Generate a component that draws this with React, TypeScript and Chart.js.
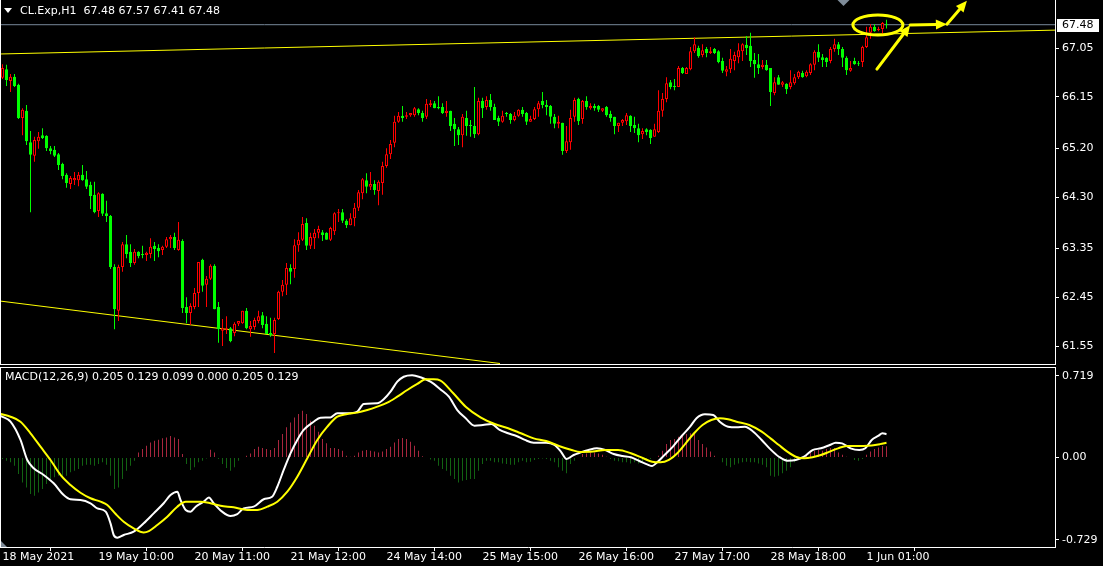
import React, { useEffect, useRef } from "react";
import { Chart, registerables } from "chart.js";

Chart.register(...registerables);

// ---------------- data ----------------
const symbolTitle = "CL.Exp,H1";

const opens = [
  66.50,66.66,66.44,66.52,66.37,65.76,65.89,65.31,65.06,65.33,
  65.44,65.43,65.20,65.17,65.09,64.91,64.71,64.54,64.61,64.61,
  64.71,64.63,64.52,64.34,64.04,64.36,64.00,63.95,63.01,62.20,
  63.01,63.43,63.29,63.08,63.29,63.25,63.23,63.25,63.40,63.36,
  63.32,63.38,63.52,63.56,63.32,63.49,62.27,62.16,62.27,62.53,
  63.14,62.68,62.79,63.03,62.27,61.83,61.85,61.88,61.79,61.96,
  61.97,62.20,61.86,61.90,62.01,62.12,61.96,61.79,61.77,62.05,
  62.55,62.68,62.99,62.97,63.41,63.51,63.82,63.40,63.54,63.64,
  63.65,63.64,63.51,63.67,64.00,64.02,63.86,63.78,63.91,64.10,
  64.37,64.61,64.49,64.54,64.41,64.56,64.87,65.09,65.30,65.69,
  65.80,65.78,65.81,65.81,65.92,65.85,65.78,66.00,66.03,65.96,
  65.96,65.85,65.89,65.65,65.55,65.44,65.76,65.63,65.61,65.46,
  66.07,65.96,66.09,65.96,65.76,65.69,65.85,65.83,65.72,65.80,
  65.91,65.85,65.69,65.74,65.92,66.07,66.00,65.98,65.78,65.65,
  65.67,65.15,65.31,65.78,66.11,65.74,66.07,65.94,65.98,65.98,
  65.89,65.96,65.83,65.78,65.61,65.67,65.70,65.80,65.63,65.57,
  65.46,65.55,65.54,65.41,65.50,65.89,66.11,66.42,66.35,66.33,
  66.68,66.57,66.66,66.99,67.05,66.92,67.03,66.96,67.03,66.99,
  66.81,66.61,66.66,66.81,66.88,66.99,67.11,67.09,66.83,66.75,
  66.70,66.74,66.68,66.22,66.51,66.37,66.39,66.33,66.40,66.51,
  66.59,66.53,66.59,66.74,66.98,66.88,66.87,66.81,67.03,67.12,
  67.03,66.87,66.63,66.81,66.77,66.79,67.07,67.33,67.44,67.38,
  67.40,67.48,
];

const highs = [
  66.75,66.74,66.57,66.57,66.39,65.94,66.00,65.52,65.41,65.50,
  65.57,65.44,65.24,65.24,65.11,64.93,64.74,64.69,64.76,64.76,
  64.89,64.78,64.58,64.58,64.39,64.37,64.23,63.97,63.06,63.05,
  63.47,63.60,63.43,63.34,63.30,63.40,63.29,63.54,63.47,63.43,
  63.40,63.56,63.60,63.64,63.84,63.52,62.45,62.34,62.62,63.10,
  63.16,62.84,63.06,63.06,62.36,62.05,62.10,61.90,61.99,62.01,
  62.20,62.25,62.01,62.07,62.20,62.18,62.10,62.07,62.07,62.57,
  62.77,63.08,63.06,63.52,63.65,63.93,63.91,63.64,63.71,63.77,
  63.69,63.65,63.75,64.02,64.08,64.08,63.89,64.00,64.19,64.43,
  64.65,64.74,64.76,64.61,64.61,64.95,65.20,65.35,65.80,65.87,
  65.98,65.87,65.85,65.96,65.94,65.89,66.11,66.09,66.07,66.16,
  66.03,66.07,65.89,65.76,65.59,65.83,65.89,65.72,66.33,66.13,
  66.13,66.16,66.20,66.02,65.80,65.89,65.87,65.85,65.87,65.92,
  65.96,65.87,65.80,65.96,66.07,66.24,66.09,66.00,65.83,65.80,
  65.67,65.61,65.91,66.13,66.13,66.09,66.16,66.03,66.02,66.00,
  65.94,65.98,65.89,65.78,65.67,65.74,65.85,65.81,65.78,65.65,
  65.57,65.57,65.55,65.65,66.27,66.22,66.51,66.46,66.48,66.72,
  66.70,66.70,67.07,67.25,67.09,67.12,67.07,67.07,67.05,67.01,
  66.87,66.72,67.03,66.98,67.14,67.14,67.27,67.33,66.96,66.94,
  66.83,66.83,66.68,66.51,66.55,66.44,66.40,66.64,66.57,66.63,
  66.63,66.64,66.77,67.01,67.12,66.94,66.88,67.07,67.22,67.16,
  67.07,66.90,66.81,66.87,66.81,67.09,67.44,67.49,67.49,67.44,
  67.53,67.57,
];

const lows = [
  66.48,66.35,66.24,66.33,65.74,65.44,65.26,64.02,64.95,65.19,
  65.37,65.15,65.09,65.04,64.80,64.63,64.47,64.45,64.52,64.50,
  64.60,64.45,64.08,64.00,63.93,63.95,63.84,62.97,61.86,62.01,
  62.92,63.17,63.01,63.05,63.17,63.17,63.12,63.17,63.12,63.19,
  63.23,63.36,63.36,63.32,63.31,62.16,61.97,61.94,62.23,62.27,
  62.55,62.27,62.77,62.23,61.61,61.55,61.77,61.62,61.73,61.92,
  61.96,61.86,61.72,61.85,61.97,61.88,61.77,61.72,61.42,62.03,
  62.47,62.49,62.69,62.81,63.29,63.49,63.32,63.34,63.34,63.54,
  63.49,63.51,63.49,63.60,63.84,63.82,63.73,63.78,63.76,64.04,
  64.26,64.37,64.43,64.34,64.15,64.34,64.84,65.00,65.22,65.67,
  65.69,65.74,65.78,65.78,65.81,65.69,65.74,65.96,65.94,65.92,
  65.83,65.78,65.52,65.24,65.26,65.22,65.43,65.41,65.39,65.44,
  65.76,65.91,65.89,65.72,65.61,65.67,65.78,65.65,65.70,65.78,
  65.78,65.63,65.69,65.72,65.78,65.94,65.81,65.65,65.57,65.57,
  65.08,65.11,65.17,65.69,65.63,65.65,65.91,65.91,65.89,65.87,
  65.87,65.78,65.69,65.46,65.50,65.61,65.63,65.50,65.48,65.31,
  65.37,65.44,65.28,65.41,65.48,65.78,66.05,66.29,66.27,66.33,
  66.57,66.57,66.64,66.96,66.87,66.88,66.88,66.94,66.94,66.77,
  66.59,66.53,66.59,66.64,66.77,66.81,66.92,66.70,66.50,66.57,
  66.66,66.63,65.98,66.18,66.37,66.33,66.20,66.29,66.37,66.48,
  66.50,66.51,66.55,66.64,66.79,66.70,66.70,66.77,66.98,66.92,
  66.70,66.55,66.61,66.74,66.72,66.70,67.05,67.22,67.35,67.36,
  67.31,67.41,
];

const closes = [
  66.68,66.46,66.52,66.35,65.76,65.91,65.33,65.08,65.35,65.41,
  65.39,65.20,65.15,65.06,64.89,64.69,64.56,64.65,64.65,64.71,
  64.61,64.49,64.32,64.02,64.37,63.99,63.95,63.01,62.23,63.01,
  63.43,63.25,63.08,63.29,63.21,63.23,63.27,63.38,63.34,63.30,
  63.38,63.52,63.56,63.36,63.51,62.25,62.16,62.29,62.53,63.10,
  62.66,62.79,63.03,62.23,61.86,61.88,61.88,61.64,61.96,62.01,
  62.20,61.88,61.92,62.03,62.10,61.94,61.77,61.75,62.03,62.55,
  62.68,62.99,62.92,63.41,63.51,63.80,63.40,63.56,63.64,63.71,
  63.60,63.51,63.73,64.00,64.02,63.86,63.78,63.91,64.10,64.39,
  64.63,64.49,64.54,64.43,64.58,64.87,65.09,65.28,65.69,65.80,
  65.76,65.81,65.85,65.94,65.85,65.76,66.02,66.03,65.94,65.94,
  65.85,65.89,65.61,65.55,65.44,65.78,65.61,65.61,65.46,66.07,
  65.94,66.09,65.96,65.72,65.69,65.80,65.83,65.72,65.80,65.91,
  65.83,65.69,65.74,65.92,66.03,66.00,65.96,65.78,65.65,65.69,
  65.15,65.33,65.76,66.09,65.70,66.07,65.96,65.98,65.94,65.91,
  65.94,65.81,65.76,65.61,65.67,65.72,65.81,65.61,65.57,65.44,
  65.52,65.50,65.39,65.55,65.89,66.11,66.40,66.33,66.33,66.68,
  66.59,66.68,66.99,67.12,66.90,67.01,66.96,66.99,66.96,66.79,
  66.63,66.66,66.85,66.92,67.01,67.12,67.05,66.81,66.75,66.68,
  66.74,66.64,66.24,66.42,66.37,66.42,66.29,66.42,66.51,66.61,
  66.51,66.61,66.75,66.98,66.87,66.83,66.79,67.03,67.12,67.03,
  66.87,66.64,66.68,66.75,66.75,67.07,67.25,67.44,67.36,67.40,
  67.51,67.48,
];

const lastPrice = 67.48;
const priceTicks = [67.05, 66.15, 65.2, 64.3, 63.35, 62.45, 61.55];

const timeTickBars = [0, 24, 48, 72, 96, 120, 144, 168, 192, 216];
const timeTickLabels = [
  "18 May 2021", "19 May 10:00", "20 May 11:00", "21 May 12:00", "24 May 14:00",
  "25 May 15:00", "26 May 16:00", "27 May 17:00", "28 May 18:00", "1 Jun 01:00",
];

// MACD main line (white), read at sample bars
const macdBars = [
  -0.5,2,4.5,6.2,7.8,10.3,12.8,15.3,17,19.5,22,23.7,25.8,27,27.8,28.7,30.3,32.8,35.3,37.8,
  40.3,42,43.7,44.5,45.8,47,48.3,50.3,51.6,52.8,54.9,57,58.7,60.3,62.8,65.3,67.4,68.7,70.3,72,
  73.7,75.3,77.8,79.5,82,83.7,86.2,88.7,90.3,93.7,95.3,97,98.7,100.3,102.4,104.5,107,109.5,111.6,113.7,
  115.8,118,120.1,122.2,124.3,126.4,128.5,130.6,132.8,135.9,138,139.6,141,142.8,144.4,146.5,148.6,150.7,152.8,155,
  157.1,159.2,161.3,162.4,163.4,165.5,167.6,169.8,171.9,173.5,175.6,177.7,179.3,181.4,183.5,185.6,187.7,189.8,192,194.1,
  196.2,198.3,200.4,202.5,204.6,206.8,208.3,209.9,212,214.2,215.7,217.3,218.9,220,221,
];
const macdValues = [
  0.366,0.315,0.154,-0.023,-0.096,-0.155,-0.229,-0.332,-0.370,-0.376,-0.405,-0.450,-0.479,-0.582,-0.685,-0.709,-0.685,-0.656,-0.582,-0.494,
  -0.405,-0.332,-0.303,-0.376,-0.464,-0.479,-0.435,-0.391,-0.353,-0.405,-0.479,-0.517,-0.500,-0.450,-0.435,-0.370,-0.347,-0.259,-0.111,0.036,
  0.154,0.242,0.315,0.350,0.353,0.389,0.389,0.404,0.471,0.477,0.513,0.580,0.668,0.712,0.725,0.707,0.668,0.600,0.536,0.418,
  0.345,0.280,0.286,0.295,0.242,0.213,0.189,0.154,0.130,0.130,0.109,0.051,-0.014,0.021,0.042,0.065,0.080,0.065,0.030,0.012,
  0.001,-0.032,-0.064,-0.076,-0.052,0.021,0.095,0.189,0.271,0.345,0.380,0.374,0.315,0.271,0.265,0.271,0.227,0.154,0.071,0.006,
  -0.029,-0.023,0.006,0.065,0.080,0.109,0.130,0.124,0.080,0.065,0.080,0.154,0.189,0.213,0.205,
];

// Signal line (yellow)
const signalBars = [
  -0.5,2,4.5,7,9.5,12,14.5,17,19.5,22,24.5,26.2,28.3,30.3,32.8,35.3,36.6,38.7,41.2,43.7,
  45.8,49.5,52,54.5,57.8,61.2,63.7,66.2,68.7,71.2,73.7,76.2,78.7,81.2,83.7,86.2,88.7,91.2,93.7,96.2,
  98.7,101.2,103.7,105.8,107.8,109.5,112.7,115.8,119.5,123.2,126.4,129.6,132.8,135.9,139.1,142.3,144.4,147.6,150.7,153.9,
  157.1,160.2,162.4,164.5,166.6,168.7,170.8,172.9,175,177.2,179.3,181.4,183.5,186.7,189.8,192,194.1,196.2,198.3,200.4,
  202.5,204.6,206.8,208.9,211,213.1,215.2,217.3,219.4,221,
];
const signalValues = [
  0.383,0.359,0.315,0.213,0.095,-0.023,-0.155,-0.244,-0.312,-0.361,-0.391,-0.420,-0.500,-0.568,-0.626,-0.662,-0.650,-0.597,-0.524,-0.435,
  -0.391,-0.391,-0.405,-0.427,-0.441,-0.464,-0.464,-0.435,-0.391,-0.303,-0.171,-0.008,0.154,0.271,0.359,0.383,0.395,0.418,0.448,0.483,
  0.536,0.595,0.648,0.689,0.689,0.678,0.566,0.448,0.354,0.292,0.257,0.213,0.168,0.145,0.101,0.065,0.048,0.051,0.065,0.065,
  0.036,-0.008,-0.038,-0.044,-0.023,0.036,0.124,0.213,0.286,0.330,0.345,0.336,0.315,0.286,0.227,0.168,0.109,0.051,0.006,-0.008,
  0.001,0.021,0.051,0.080,0.101,0.101,0.101,0.105,0.117,0.129,
];

// Histogram, one per bar
const histValues = [
  -0.015,-0.029,-0.044,-0.074,-0.147,-0.221,-0.265,-0.324,-0.338,-0.309,
  -0.279,-0.235,-0.191,-0.176,-0.162,-0.162,-0.162,-0.132,-0.118,-0.103,
  -0.074,-0.065,-0.065,-0.074,-0.059,-0.044,-0.065,-0.162,-0.279,-0.265,
  -0.191,-0.118,-0.074,-0.029,0.044,0.074,0.103,0.132,0.147,0.156,
  0.168,0.176,0.188,0.176,0.162,0.029,-0.059,-0.112,-0.088,-0.044,
  -0.029,-0.009,0.068,0.044,-0.015,-0.059,-0.094,-0.118,-0.088,-0.029,
  0.003,0.015,0.035,0.074,0.094,0.082,0.074,0.065,0.082,0.153,
  0.206,0.265,0.309,0.353,0.382,0.412,0.382,0.324,0.279,0.226,
  0.162,0.124,0.082,0.082,0.074,0.059,0.015,0.006,0.015,0.044,
  0.059,0.065,0.059,0.053,0.044,0.053,0.074,0.094,0.132,0.162,
  0.171,0.162,0.138,0.103,0.059,0.009,-0.005,-0.018,-0.029,-0.074,
  -0.103,-0.118,-0.162,-0.191,-0.221,-0.206,-0.200,-0.191,-0.191,-0.118,
  -0.059,-0.029,-0.029,-0.044,-0.044,-0.053,-0.059,-0.065,-0.065,-0.044,
  -0.029,-0.044,-0.038,-0.024,-0.015,-0.009,-0.015,-0.029,-0.044,-0.088,
  -0.118,-0.141,-0.059,-0.029,0.003,0.029,0.035,0.044,0.044,0.035,
  0.024,0.006,-0.015,-0.029,-0.035,-0.044,-0.044,-0.053,-0.044,-0.053,
  -0.044,-0.029,-0.015,-0.006,0.015,0.059,0.118,0.153,0.162,0.182,
  0.200,0.206,0.212,0.221,0.153,0.118,0.088,0.053,0.015,-0.006,
  -0.044,-0.074,-0.088,-0.065,-0.053,-0.044,-0.038,-0.044,-0.044,-0.053,
  -0.065,-0.088,-0.162,-0.171,-0.162,-0.141,-0.118,-0.088,-0.044,-0.015,
  0.000,0.024,0.044,0.059,0.065,0.059,0.074,0.082,0.082,0.044,
  0.024,0.006,-0.006,-0.024,-0.029,-0.015,0.024,0.053,0.074,0.088,
  0.100,0.099,
];

const macdTicks = [0.719, 0, -0.729];
const macdTickLabels = ["0.719", "0.00", "-0.729"];
const macdLegend = "MACD(12,26,9) 0.205 0.129 0.099 0.000 0.205 0.129";

// trend lines (bar index, price)
const upperTrendBars = [-0.375, 263.125];
const upperTrendPrices = [66.94, 67.38];
const lowerTrendBars = [-0.625, 124.375];
const lowerTrendPrices = [62.38, 61.227];

// hand-drawn annotation (bar index, price)
const circleBarRange = [212.6, 225.1];
const circlePriceRange = [67.29, 67.66];
const arrowStartBars = [218.6, 226.9, 236.1];
const arrowStartPrices = [66.66, 67.475, 67.49];
const arrowEndBars = [226.9, 236.1, 241.1];
const arrowEndPrices = [67.47, 67.49, 67.92];
const shiftMarkerBar = 210;

// axis ranges
const BAR_MIN = -0.375;
const BAR_MAX = 263.125;
const PRICE_MIN = 61.218;
const PRICE_MAX = 67.936;
const MACD_MIN = -0.791;
const MACD_MAX = 0.789;

// ---------------- styles ----------------
const FONT = "'DejaVu Sans', sans-serif";
const RED = "#ff0000";
const LIME = "#00ff00";
const YELLOW = "#ffff00";
const WHITE = "#ffffff";
const BIDLINE = "#778899";
const HIST_UP = "#a8263e";
const HIST_DN = "#126212";

Chart.defaults.font.family = FONT;
Chart.defaults.font.size = 11;
Chart.defaults.color = WHITE;

function fixAxis(width?: number, height?: number) {
  return (scale: any) => {
    if (width !== undefined) scale.width = width;
    if (height !== undefined) scale.height = height;
    scale.paddingTop = 0;
    scale.paddingBottom = 0;
    scale.paddingLeft = 0;
    scale.paddingRight = 0;
  };
}

function drawArrow(ctx: CanvasRenderingContext2D, x1: number, y1: number, x2: number, y2: number) {
  const ang = Math.atan2(y2 - y1, x2 - x1);
  const headLen = 11;
  const headHalf = 5;
  const bx = x2 - headLen * Math.cos(ang);
  const by = y2 - headLen * Math.sin(ang);
  ctx.beginPath();
  ctx.moveTo(x1, y1);
  ctx.lineTo(bx, by);
  ctx.stroke();
  ctx.beginPath();
  ctx.moveTo(x2, y2);
  ctx.lineTo(bx + headHalf * Math.sin(ang), by - headHalf * Math.cos(ang));
  ctx.lineTo(bx - headHalf * Math.sin(ang), by + headHalf * Math.cos(ang));
  ctx.closePath();
  ctx.fill();
}

const mainOverlay = {
  id: "mainOverlay",
  afterDraw(chart: any) {
    const { ctx, chartArea, scales } = chart;
    const xs = scales.x;
    const ys = scales.y;
    ctx.save();
    // frame
    ctx.fillStyle = WHITE;
    ctx.fillRect(0, 0, 1, chartArea.bottom + 1);
    ctx.fillRect(0, chartArea.bottom, chartArea.right + 1, 1);

    // annotation ellipse + arrows
    ctx.strokeStyle = YELLOW;
    ctx.fillStyle = YELLOW;
    ctx.lineWidth = 3;
    ctx.lineCap = "round";
    const ex1 = xs.getPixelForValue(circleBarRange[0]);
    const ex2 = xs.getPixelForValue(circleBarRange[1]);
    const ey1 = ys.getPixelForValue(circlePriceRange[0]);
    const ey2 = ys.getPixelForValue(circlePriceRange[1]);
    ctx.beginPath();
    ctx.ellipse((ex1 + ex2) / 2, (ey1 + ey2) / 2, Math.abs(ex2 - ex1) / 2, Math.abs(ey2 - ey1) / 2, 0, 0, Math.PI * 2);
    ctx.stroke();
    for (let k = 0; k < arrowStartBars.length; k++) {
      drawArrow(
        ctx,
        xs.getPixelForValue(arrowStartBars[k]),
        ys.getPixelForValue(arrowStartPrices[k]),
        xs.getPixelForValue(arrowEndBars[k]),
        ys.getPixelForValue(arrowEndPrices[k])
      );
    }

    // shift marker
    const sx = Math.round(xs.getPixelForValue(shiftMarkerBar)) + 0.5;
    ctx.fillStyle = "#7f8c99";
    ctx.beginPath();
    ctx.moveTo(sx - 6, 0);
    ctx.lineTo(sx + 6, 0);
    ctx.lineTo(sx, 6);
    ctx.closePath();
    ctx.fill();

    // title
    const n = closes.length - 1;
    ctx.fillStyle = WHITE;
    ctx.beginPath();
    ctx.moveTo(4, 8);
    ctx.lineTo(12, 8);
    ctx.lineTo(8, 13);
    ctx.closePath();
    ctx.fill();
    ctx.font = `11px ${FONT}`;
    ctx.textBaseline = "middle";
    ctx.textAlign = "left";
    const title = `${symbolTitle}  ${opens[n].toFixed(2)} ${highs[n].toFixed(2)} ${lows[n].toFixed(2)} ${closes[n].toFixed(2)}`;
    ctx.fillText(title, 20, 11);

    // current price box
    const py = Math.round(ys.getPixelForValue(lastPrice));
    ctx.fillStyle = WHITE;
    ctx.fillRect(chartArea.right + 2, py - 6, 42, 13);
    ctx.fillStyle = "#000000";
    ctx.fillText(lastPrice.toFixed(2), chartArea.right + 7, py + 0.5);
    ctx.restore();
  },
};

const macdOverlay = {
  id: "macdOverlay",
  afterDraw(chart: any) {
    const { ctx, chartArea } = chart;
    ctx.save();
    ctx.fillStyle = WHITE;
    ctx.fillRect(0, chartArea.top - 1, chartArea.right + 1, 1);
    ctx.fillRect(0, chartArea.top - 1, 1, chartArea.bottom - chartArea.top + 2);
    ctx.font = `11px ${FONT}`;
    ctx.textBaseline = "middle";
    ctx.textAlign = "left";
    ctx.fillText(macdLegend, 5, chartArea.top + 9.5);
    ctx.fillStyle = "#7f8c99";
    ctx.beginPath();
    ctx.moveTo(1, chartArea.bottom - 6);
    ctx.lineTo(1, chartArea.bottom);
    ctx.lineTo(7, chartArea.bottom);
    ctx.closePath();
    ctx.fill();
    ctx.restore();
  },
};

function rightAxis(min: number, max: number, ticks: number[], labelFor: (v: number, i: number) => string) {
  return {
    position: "right",
    min,
    max,
    afterFit: fixAxis(48),
    afterBuildTicks: (s: any) => {
      s.ticks = ticks.map((v) => ({ value: v }));
    },
    ticks: {
      color: WHITE,
      padding: 3,
      autoSkip: false,
      font: { family: FONT, size: 11 },
      callback: (v: any, i: number) => labelFor(Number(v), i),
    },
    grid: { drawOnChartArea: false, drawTicks: true, tickLength: 4, color: WHITE },
    border: { display: true, color: WHITE, width: 1 },
  };
}

export default function App() {
  const mainRef = useRef<HTMLCanvasElement>(null);
  const macdRef = useRef<HTMLCanvasElement>(null);

  useEffect(() => {
    const idx = closes.map((_, i) => i);
    const up = (i: number) => closes[i] > opens[i];

    const main = new Chart(mainRef.current as HTMLCanvasElement, {
      type: "bar",
      data: {
        datasets: [
          {
            type: "line",
            label: "bid",
            data: [{ x: BAR_MIN, y: lastPrice }, { x: BAR_MAX, y: lastPrice }],
            borderColor: BIDLINE,
            borderWidth: 1,
            pointRadius: 0,
            order: 6,
          },
          {
            type: "line",
            label: "upper trend",
            data: upperTrendBars.map((b, k) => ({ x: b, y: upperTrendPrices[k] })),
            borderColor: YELLOW,
            borderWidth: 1,
            pointRadius: 0,
            order: 5,
          },
          {
            type: "line",
            label: "lower trend",
            data: lowerTrendBars.map((b, k) => ({ x: b, y: lowerTrendPrices[k] })),
            borderColor: YELLOW,
            borderWidth: 1,
            pointRadius: 0,
            order: 5,
          },
          {
            type: "bar",
            label: "wick",
            data: idx.map((i) => ({ x: i, y: [lows[i], highs[i]] })),
            backgroundColor: idx.map((i) => (up(i) ? RED : LIME)),
            borderWidth: 0,
            barThickness: 1,
            grouped: false,
            inflateAmount: 0,
            order: 3,
          },
          {
            type: "bar",
            label: "body",
            data: idx.map((i) => ({ x: i, y: [opens[i], closes[i]] })),
            backgroundColor: idx.map((i) => (up(i) ? "#000000" : LIME)),
            borderColor: idx.map((i) => (up(i) ? RED : LIME)),
            borderWidth: 1,
            borderSkipped: false,
            barThickness: 3,
            grouped: false,
            inflateAmount: 0,
            minBarLength: 1,
            order: 2,
          },
        ] as any,
      },
      options: {
        responsive: false,
        animation: false,
        devicePixelRatio: 1,
        events: [],
        layout: { padding: { left: 1, right: 0, top: 0, bottom: 2 } },
        plugins: { legend: { display: false }, tooltip: { enabled: false } },
        scales: {
          x: { type: "linear", min: BAR_MIN, max: BAR_MAX, offset: false, display: false },
          y: rightAxis(PRICE_MIN, PRICE_MAX, priceTicks, (v) => v.toFixed(2)),
        } as any,
      },
      plugins: [mainOverlay],
    });

    const macd = new Chart(macdRef.current as HTMLCanvasElement, {
      type: "bar",
      data: {
        datasets: [
          {
            type: "bar",
            label: "hist",
            data: idx.map((i) => ({ x: i, y: histValues[i] })),
            backgroundColor: histValues.map((v) => (v >= 0 ? HIST_UP : HIST_DN)),
            borderWidth: 0,
            barThickness: 1,
            grouped: false,
            inflateAmount: 0,
            order: 3,
          },
          {
            type: "line",
            label: "MACD",
            data: macdBars.map((b, k) => ({ x: b, y: macdValues[k] })),
            borderColor: WHITE,
            borderWidth: 2,
            pointRadius: 0,
            cubicInterpolationMode: "monotone",
            order: 2,
          },
          {
            type: "line",
            label: "Signal",
            data: signalBars.map((b, k) => ({ x: b, y: signalValues[k] })),
            borderColor: YELLOW,
            borderWidth: 2,
            pointRadius: 0,
            cubicInterpolationMode: "monotone",
            order: 1,
          },
        ] as any,
      },
      options: {
        responsive: false,
        animation: false,
        devicePixelRatio: 1,
        events: [],
        layout: { padding: { left: 1, right: 0, top: 2, bottom: 0 } },
        plugins: { legend: { display: false }, tooltip: { enabled: false } },
        scales: {
          x: {
            type: "linear",
            position: "bottom",
            min: BAR_MIN,
            max: BAR_MAX,
            offset: false,
            afterFit: fixAxis(undefined, 19),
            afterBuildTicks: (s: any) => {
              s.ticks = timeTickBars.map((v) => ({ value: v }));
            },
            ticks: {
              color: WHITE,
              align: "start",
              autoSkip: false,
              maxRotation: 0,
              minRotation: 0,
              padding: 0,
              font: { family: FONT, size: 11 },
              callback: (_v: any, i: number) => timeTickLabels[i],
            },
            grid: { drawOnChartArea: false, drawTicks: true, tickLength: 4, color: WHITE },
            border: { display: true, color: WHITE, width: 1 },
          },
          y: rightAxis(MACD_MIN, MACD_MAX, macdTicks, (_v, i) => macdTickLabels[i]),
        } as any,
      },
      plugins: [macdOverlay],
    });

    return () => {
      main.destroy();
      macd.destroy();
    };
  }, []);

  return (
    <div
      style={{
        position: "fixed",
        left: 0,
        top: 0,
        width: 1103,
        height: 566,
        background: "#000000",
        overflow: "hidden",
      }}
    >
      <canvas ref={mainRef} width={1103} height={366} style={{ position: "absolute", left: 0, top: 0 }} />
      <canvas ref={macdRef} width={1103} height={200} style={{ position: "absolute", left: 0, top: 366 }} />
    </div>
  );
}
